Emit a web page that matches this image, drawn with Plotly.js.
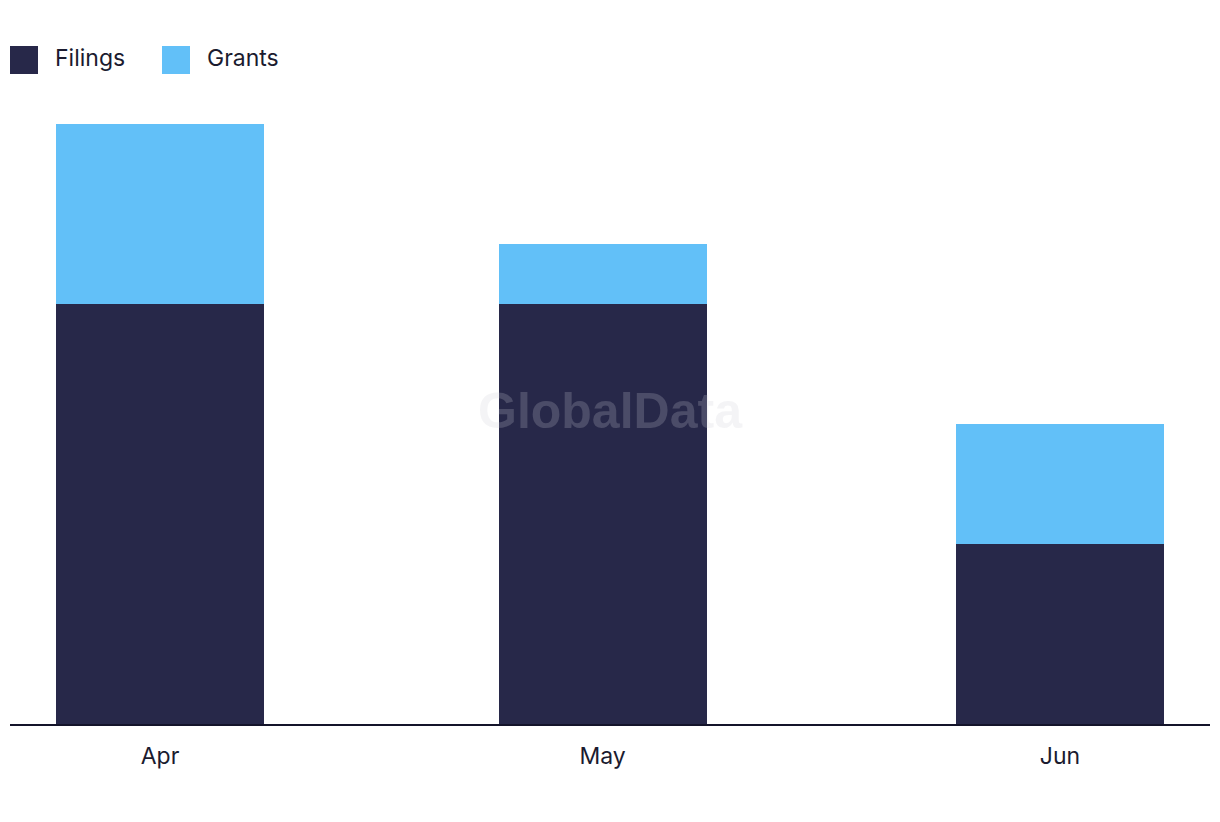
<!DOCTYPE html>
<html>
<head>
<meta charset="utf-8">
<script src="https://cdn.plot.ly/plotly-3.0.1.min.js"></script>
<style>html,body{margin:0;padding:0;background:#fff;}#chart{width:1220px;height:822px;}</style>
</head>
<body>
<div id="chart"></div>
<script>
// Data
const months = ['2024-04-01', '2024-05-01', '2024-06-01'];
const monthLabels = ['Apr', 'May', 'Jun'];
const filings = [7, 7, 3];
const grants = [3, 1, 2];
const seriesNames = ['Filings', 'Grants'];
const seriesColors = ['#272849', '#62C0F8'];

const DAY = 86400000;
const barWidth = 14.1 * DAY;
const fontFamily = 'Inter, "Noto Sans", sans-serif';
const textColor = '#1b1b2f';

const traces = [
  {type: 'bar', name: seriesNames[0], x: months, y: filings, width: barWidth,
   marker: {color: seriesColors[0], line: {width: 0}}, hoverinfo: 'x+y+name'},
  {type: 'bar', name: seriesNames[1], x: months, y: grants, width: barWidth,
   marker: {color: seriesColors[1], line: {width: 0}}, hoverinfo: 'x+y+name'}
];

// custom legend (large square swatches)
const W = 1200, H = 600; // plot area px
const legendX = [10, 162];   // px, left of swatch
const legendTop = 46, sw = 28;
const shapes = [], annotations = [];
seriesNames.forEach((n, i) => {
  const x0 = (legendX[i] - 10) / W, x1 = (legendX[i] - 10 + sw) / W;
  const y0 = (724 - (legendTop + sw)) / H, y1 = (724 - legendTop) / H;
  shapes.push({type: 'rect', xref: 'paper', yref: 'paper', x0, x1, y0, y1,
    fillcolor: seriesColors[i], line: {width: 0}});
  annotations.push({xref: 'paper', yref: 'paper', x: (legendX[i] - 10 + sw + 15) / W,
    y: (y0 + y1) / 2 + 2 / H, xanchor: 'left', yanchor: 'middle', text: n, showarrow: false,
    font: {family: fontFamily, size: 23, color: textColor}});
});
annotations.push({xref: 'paper', yref: 'paper', x: 0.5, y: (724 - 411) / H,
  xanchor: 'center', yanchor: 'middle', text: '<b>GlobalData</b>', showarrow: false,
  font: {family: 'Liberation Sans, Arial, sans-serif', size: 50, color: 'rgba(205,205,212,0.22)'}});

const layout = {
  width: 1220, height: 822,
  margin: {l: 10, r: 10, t: 124, b: 98, pad: 0},
  paper_bgcolor: '#fff', plot_bgcolor: '#fff',
  barmode: 'stack',
  showlegend: false,
  xaxis: {
    type: 'date',
    range: ['2024-03-21 20:00', '2024-06-11 04:00'],
    tickvals: months, ticktext: monthLabels,
    showgrid: false, zeroline: false,
    showline: true, linecolor: '#14142a', linewidth: 2,
    ticks: '', ticklen: 0, ticklabelstandoff: 10,
    tickfont: {family: fontFamily, size: 23, color: textColor},
    fixedrange: true
  },
  yaxis: {range: [0, 10], visible: false, showgrid: false, zeroline: false, fixedrange: true},
  shapes, annotations,
  font: {family: fontFamily, color: textColor}
};

Plotly.newPlot('chart', traces, layout, {displayModeBar: false, staticPlot: true});
</script>
</body>
</html>
